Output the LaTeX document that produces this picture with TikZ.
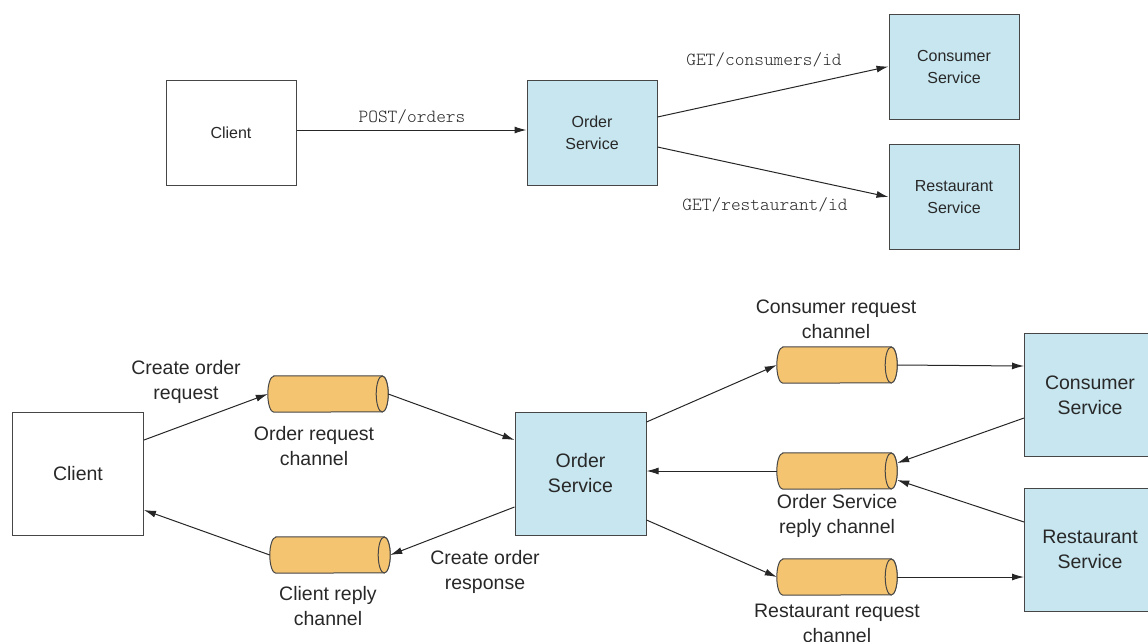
\documentclass[tikz,border=0pt]{standalone}
\usepackage{fontspec}
\setmainfont{Liberation Sans}
\newfontfamily\codefont{Latin Modern Mono Light}
\usetikzlibrary{arrows.meta}
\definecolor{svcblue}{RGB}{199,230,240}
\definecolor{chanorange}{RGB}{245,196,112}
\definecolor{edgegray}{RGB}{70,70,70}
\definecolor{txtgray}{RGB}{40,40,40}
\tikzset{
  topbox/.style={draw=edgegray, line width=1pt, minimum width=130pt, minimum height=105pt,
    inner sep=0pt, align=center, font=\fontsize{16}{22}\selectfont, text=txtgray},
  botbox/.style={draw=edgegray, line width=1pt, minimum width=131pt, minimum height=123pt,
    inner sep=0pt, align=center, font=\fontsize{19.5}{25}\selectfont, text=txtgray},
  svc/.style={fill=svcblue},
  plain/.style={fill=white},
  chan/.style={minimum width=120pt, minimum height=36pt, inner sep=0pt},
  chanbody/.style={fill=chanorange, draw=edgegray, line width=1pt},
  lbl/.style={align=center, font=\fontsize{19.5}{25}\selectfont, text=txtgray, inner sep=0pt},
  codelbl/.style={font=\codefont\fontsize{18.5}{20}\selectfont, text=txtgray, inner sep=0pt},
  link/.style={draw=black!85, line width=1pt, -{Latex[length=12pt,width=7pt]}},
}
% horizontal channel drawn as a cylinder around a named anchor node
\newcommand{\channel}[3]{%
  \node[chan] (#1) at (#2,#3) {};
  \draw[chanbody] ([xshift=6pt]#1.north west) -- ([xshift=-6pt]#1.north east)
    arc[start angle=90, end angle=-90, x radius=6pt, y radius=18pt]
    -- ([xshift=6pt]#1.south west)
    arc[start angle=270, end angle=90, x radius=6pt, y radius=18pt] -- cycle;
  \draw[chanbody] ([xshift=-6pt]#1.east) ellipse[x radius=6pt, y radius=18pt];
}
\begin{document}
\begin{tikzpicture}[x=1pt, y=-1pt]
\useasboundingbox (0,0) rectangle (1148,641);

% ---------- synchronous REST calls ----------
\node[topbox, plain] (cl1) at (231,132.5) {Client};
\node[topbox, svc] (os1) at (592,132.5) {Order\\Service};
\node[topbox, svc] (cs1) at (954,66.5) {Consumer\\Service};
\node[topbox, svc] (rs1) at (954,197) {Restaurant\\Service};

\draw[link] ([yshift=2.5pt]cl1.east) -- ([yshift=2.5pt]os1.west);
\draw[link] ([yshift=15.5pt]os1.east) -- (cs1.west);
\draw[link] ([yshift=-14.5pt]os1.east) -- (rs1.west);

\node[codelbl] (postlbl) at (412,117) {POST/orders};
\node[codelbl] (getclbl) at (764,60) {GET/consumers/id};
\node[codelbl] (getrlbl) at (765,205) {GET/restaurant/id};

% ---------- asynchronous messaging ----------
\node[botbox, plain] (cl2) at (78,473.5) {Client};
\node[botbox, svc] (os2) at (580.5,473.5) {Order\\Service};
\node[botbox, svc] (cs2) at (1090,395) {Consumer\\Service};
\node[botbox, svc] (rs2) at (1090,549.5) {Restaurant\\Service};

\channel{oreq}{328}{394}
\channel{crep}{330}{555}
\channel{creq}{837}{365}
\channel{orep}{837}{471}
\channel{rreq}{837}{577}

\draw[link] ([yshift=33.5pt]cl2.east) -- (oreq.west);
\draw[link] (oreq.east) -- ([yshift=33.5pt]os2.west);
\draw[link] ([yshift=-33.5pt]os2.west) -- (crep.east);
\draw[link] (crep.west) -- ([yshift=-36.5pt]cl2.east);
\draw[link] ([yshift=51.5pt]os2.east) -- (creq.west);
\draw[link] (creq.east) -- ([yshift=29pt]cs2.west);
\draw[link] ([yshift=-23pt]cs2.west) -- ([yshift=8pt]orep.east);
\draw[link] ([yshift=27.5pt]rs2.west) -- ([yshift=-9pt]orep.east);
\draw[link] (orep.west) -- ([yshift=2.5pt]os2.east);
\draw[link] ([yshift=-46.5pt]os2.east) -- (rreq.west);
\draw[link] (rreq.east) -- ([yshift=-27.5pt]rs2.west);

\node[lbl] (l1) at (186,382) {Create order\\request};
\node[lbl] (l2) at (314,446) {Order request\\channel};
\node[lbl] (l3) at (328,606) {Client reply\\channel};
\node[lbl] (l4) at (485,572) {Create order\\response};
\node[lbl] (l5) at (836,319) {Consumer request\\channel};
\node[lbl] (l6) at (837,516) {Order Service\\reply channel};
\node[lbl] (l7) at (837,623) {Restaurant request\\channel};
\end{tikzpicture}
\end{document}
